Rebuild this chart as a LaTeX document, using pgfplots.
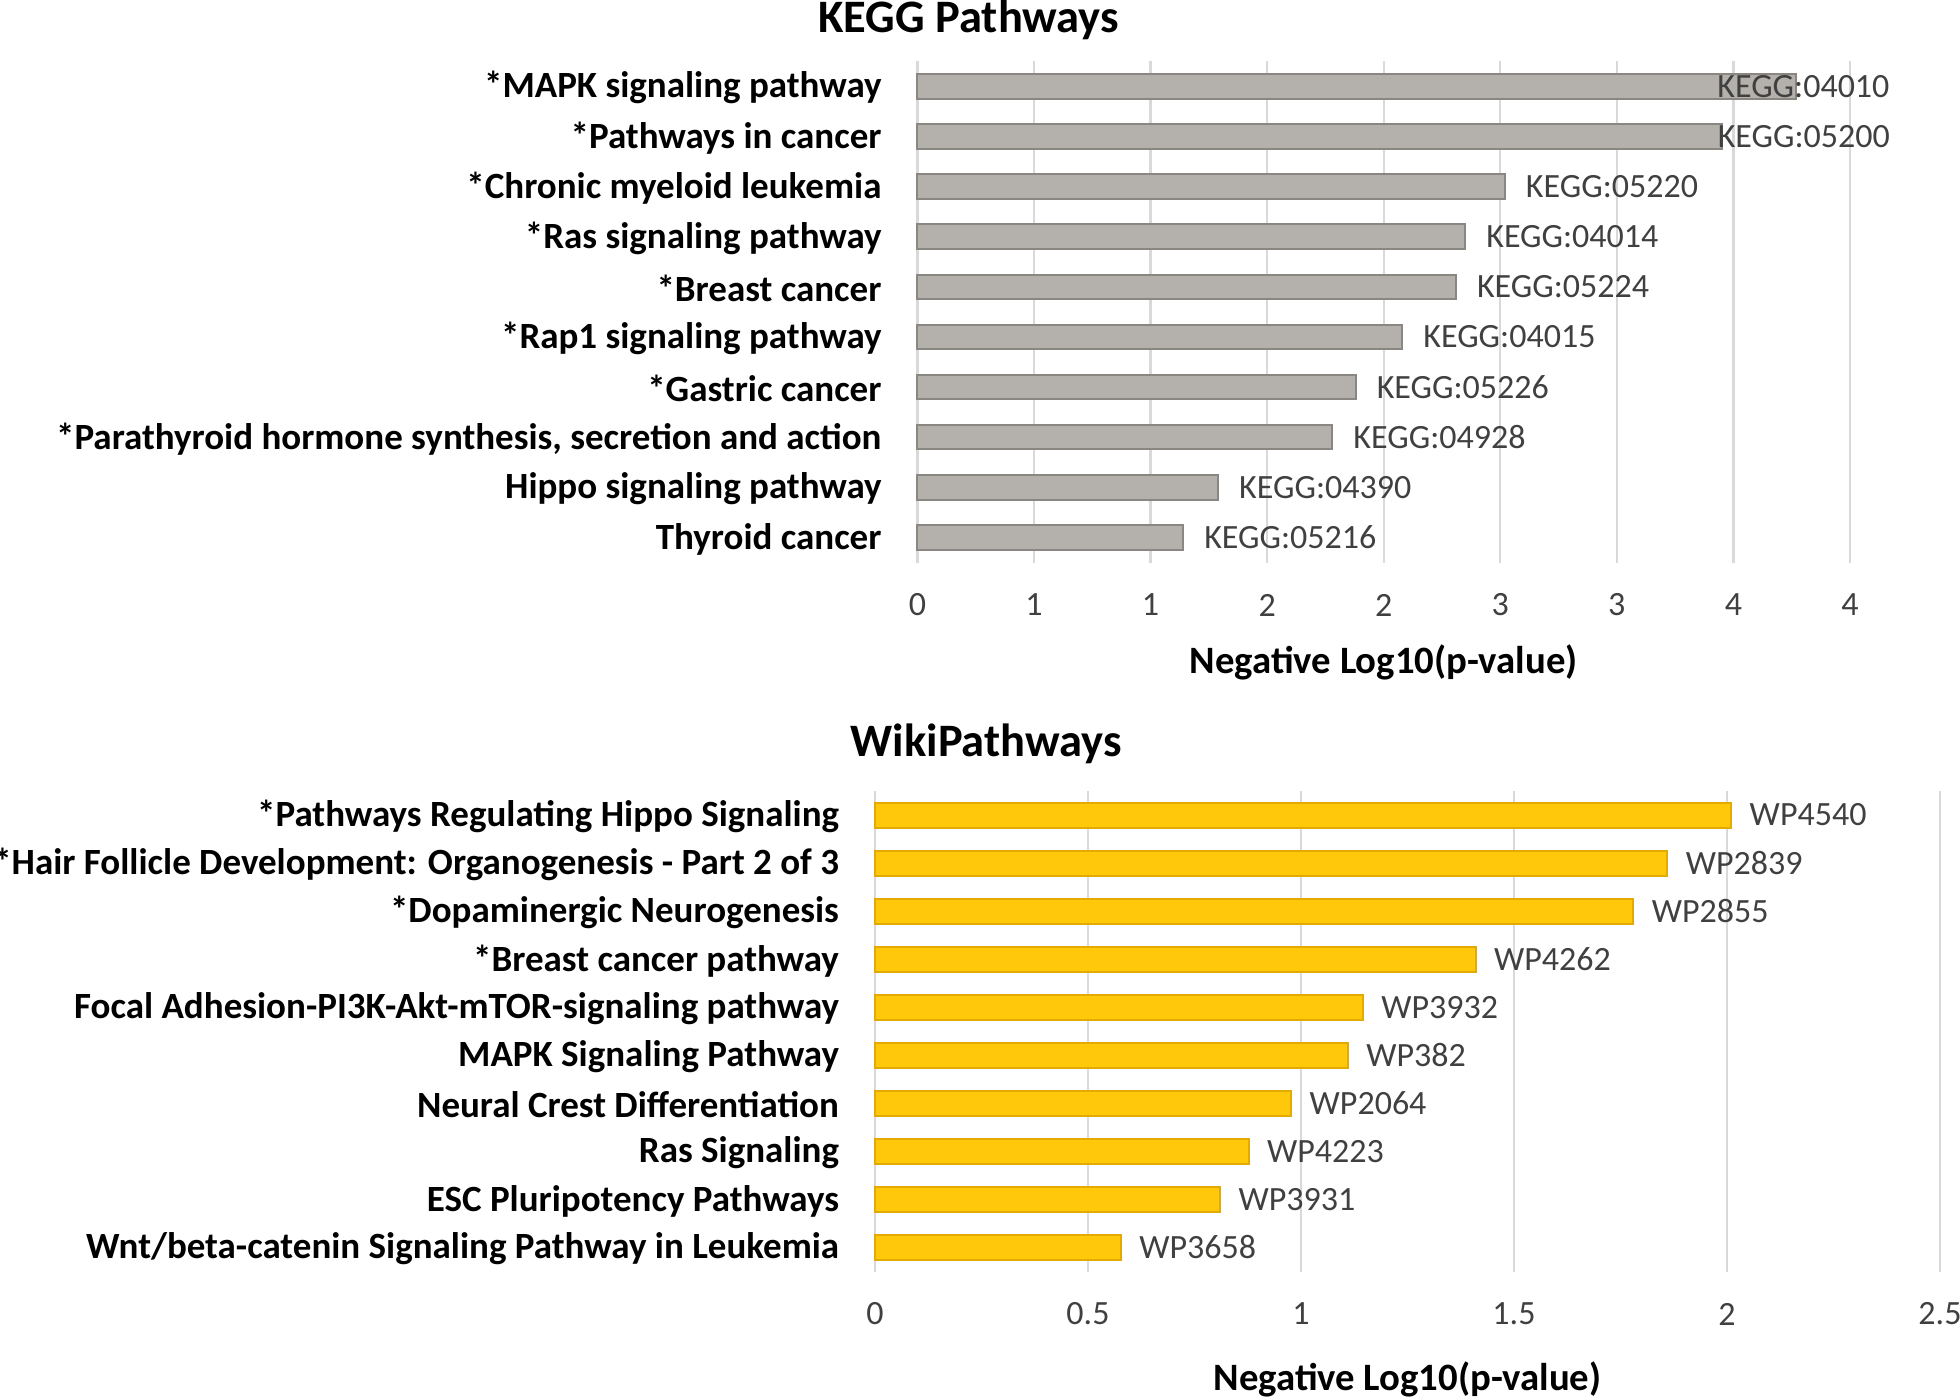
\documentclass[border=0pt]{standalone}
\usepackage{pgfplots}
\pgfplotsset{compat=1.18}
\usepackage{pgfplotstable}
\usepackage{fontspec}
\setmainfont{Carlito}
\definecolor{gridc}{HTML}{D9D9D9}
\definecolor{labc}{HTML}{404040}
\definecolor{kgfill}{HTML}{B4B0AB}
\definecolor{kgdraw}{HTML}{8A8681}
\definecolor{ylfill}{HTML}{FFC80A}
\definecolor{yldraw}{HTML}{E3AA00}

\pgfplotstableread{
y x lab dx
0 3.77 KEGG:04010 -16
1 3.45 KEGG:05200 -1
2 2.52 KEGG:05220 4
3 2.35 KEGG:04014 4
4 2.31 KEGG:05224 4
5 2.08 KEGG:04015 4
6 1.88 KEGG:05226 4
7 1.78 KEGG:04928 4
8 1.29 KEGG:04390 4
9 1.14 KEGG:05216 4
}\kegg

\pgfplotstableread{
y x lab dx
0 2.01 WP4540 3.5
1 1.86 WP2839 3.5
2 1.78 WP2855 3.5
3 1.41 WP4262 3.5
4 1.145 WP3932 3.5
5 1.11 WP382 3.5
6 0.977 WP2064 3.5
7 0.877 WP4223 3.5
8 0.81 WP3931 3.5
9 0.577 WP3658 3.5
}\wiki

\pgfplotsset{
  common/.style={
    scale only axis,
    y dir=reverse,
    ymin=-0.5, ymax=9.5,
    ytick={0,...,9},
    axis line style={draw=none},
    major tick length=0pt,
    xmajorgrids,
    major grid style={draw=gridc, line width=0.45pt},
    /pgf/number format/assume math mode=true,
    xticklabel style={font=\fontsize{6.8}{8}\selectfont, text=labc, anchor=center, inner sep=0pt, yshift=-8.5pt},
    yticklabel style={font=\fontsize{7.4}{9}\selectfont\bfseries, text=black, anchor=east, inner sep=0pt, xshift=-7pt, yshift=-0.3pt},
    xlabel style={font=\fontsize{7.75}{9}\selectfont\bfseries, at={(axis description cs:0.5,0)}, anchor=center},
    xmin=0,
    clip=false,
    point meta=explicit symbolic,
    nodes near coords,
    visualization depends on={\thisrow{dx} \as \dx},
    nodes near coords style={anchor=west, inner sep=0pt, xshift=\dx pt, font=\fontsize{6.8}{8}\selectfont, text=labc},
  }
}

\begin{document}
\begin{tikzpicture}
\path[use as bounding box] (0,0) rectangle (392pt,279.25pt);

\begin{axis}[common,
  at={(183.5pt,166.75pt)}, anchor=south west,
  width=186.5pt, height=100.25pt,
  xmax=4,
  xtick={0,0.5,...,4},
  xticklabels={0,1,1,2,2,3,3,4,4},
  yticklabels={*MAPK signaling pathway,*Pathways in cancer,*Chronic myeloid leukemia,*Ras signaling pathway,*Breast cancer,*Rap1 signaling pathway,*Gastric cancer,{*Parathyroid hormone synthesis, secretion and action},Hippo signaling pathway,Thyroid cancer},
  xlabel={Negative Log10(p-value)},
  xlabel style={yshift=-20pt},
]
\addplot[xbar, bar width=4.9pt, fill=kgfill, draw=kgdraw, line width=0.4pt]
  table[x=x, y=y, meta=lab] {\kegg};
\end{axis}

\begin{axis}[common,
  at={(175pt,24.95pt)}, anchor=south west,
  width=213pt, height=96.1pt,
  xmax=2.5,
  xtick={0,0.5,...,2.5},
  xticklabels={0,0.5,1,1.5,2,2.5},
  yticklabels={*Pathways Regulating Hippo Signaling,*Hair Follicle Development: Organogenesis - Part 2 of 3,*Dopaminergic Neurogenesis,*Breast cancer pathway,Focal Adhesion-PI3K-Akt-mTOR-signaling pathway,MAPK Signaling Pathway,Neural Crest Differentiation,Ras Signaling,ESC Pluripotency Pathways,Wnt/beta-catenin Signaling Pathway in Leukemia},
  xlabel={Negative Log10(p-value)},
  xlabel style={yshift=-21.5pt},
]
\addplot[xbar, bar width=5pt, fill=ylfill, draw=yldraw, line width=0.4pt]
  table[x=x, y=y, meta=lab] {\wiki};
\end{axis}

\node[font=\fontsize{9.3}{11}\selectfont\bfseries, anchor=center] at (193.75pt,275.25pt) {KEGG Pathways};
\node[font=\fontsize{9.3}{11}\selectfont\bfseries, anchor=center] at (197.25pt,130.5pt) {WikiPathways};
\end{tikzpicture}
\end{document}
